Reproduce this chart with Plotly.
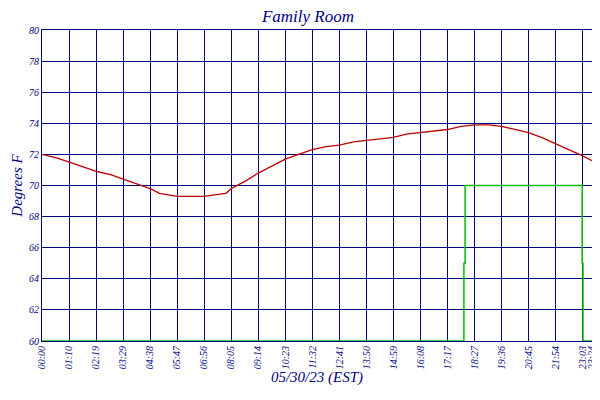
import plotly.graph_objects as go

tick_labels = ["00:00","01:10","02:19","03:29","04:38","05:47","06:56","08:05","09:14","10:23","11:32","12:41","13:50","14:59","16:08","17:17","18:27","19:36","20:45","21:54","23:03","23:24"]
tick_minutes = [0,69,138,207,276,345,414,483,552,621,690,759,828,897,966,1035,1104,1173,1242,1311,1380,1404]

room_min = [0,35,70,105,140,175,210,245,276,300,320,345,380,414,440,470,483,520,552,590,621,655,690,725,759,795,828,860,897,930,966,1000,1035,1070,1104,1140,1173,1210,1242,1275,1311,1345,1380,1404]
room_temp = [72.0,71.8,71.5,71.2,70.9,70.7,70.4,70.1,69.8,69.5,69.4,69.3,69.3,69.3,69.4,69.5,69.8,70.3,70.8,71.3,71.7,72.0,72.3,72.5,72.6,72.8,72.9,73.0,73.1,73.3,73.4,73.5,73.6,73.8,73.9,73.9,73.8,73.6,73.4,73.1,72.7,72.3,71.9,71.6]

set_min = [0,1077,1080,1379,1381,1404]
set_temp = [60,65,70,65,60,60]

navy = "#000080"
yt = list(range(60, 81, 2))

fig = go.Figure()
fig.add_trace(go.Scatter(x=room_min, y=room_temp, mode="lines", line=dict(color="#c00000", width=1.3), name="<i>Family Room</i>"))
fig.add_trace(go.Scatter(x=set_min, y=set_temp, mode="lines", line=dict(color="#00c000", width=1.5, shape="hv"), name="<i>Setback</i>"))
fig.add_trace(go.Scatter(x=[0], y=[60], yaxis="y2", mode="markers", marker=dict(opacity=0), showlegend=False, hoverinfo="skip"))

fig.update_layout(
    width=600, height=400, margin=dict(l=34, r=16, t=22, b=67, autoexpand=False),
    paper_bgcolor="white", plot_bgcolor="white",
    title=dict(text="<i>Family Room</i>", x=0.5, xanchor="center", y=0.995, yanchor="top", font=dict(family="Liberation Serif", size=17, color=navy)),
    font=dict(family="Liberation Serif", size=11, color=navy),
    xaxis=dict(range=[0, 1404], tickvals=tick_minutes, ticktext=[f"<i>{t}</i>" for t in tick_labels], tickangle=-90,
               showgrid=True, gridcolor=navy, gridwidth=1, showline=True, linecolor=navy, mirror=True, zeroline=False,
               tickfont=dict(size=10, color=navy), ticks="", automargin=False,
               title=dict(text="<i>05/30/23 (EST)</i>", font=dict(size=15, color=navy), standoff=2)),
    yaxis=dict(range=[60, 80], tickvals=yt, ticktext=[f"<i>{v}</i>" for v in yt],
               showgrid=True, gridcolor=navy, showline=True, linecolor=navy, zeroline=False, ticks="",
               tickfont=dict(size=10, color=navy), automargin=False,
               title=dict(text="<i>Degrees F</i>", font=dict(size=15, color=navy), standoff=2)),
    yaxis2=dict(range=[60, 80], overlaying="y", side="right", tickvals=yt, ticktext=[f"<i>{v}</i>" for v in yt],
                showgrid=False, showline=True, linecolor=navy, zeroline=False, ticks="", automargin=False,
                tickfont=dict(size=10, color=navy)),
    legend=dict(orientation="h", x=0.5, xanchor="center", y=-0.17, yanchor="top", font=dict(size=12, color=navy),
                itemwidth=30, tracegroupgap=0),
)
fig.write_html("out.html")
